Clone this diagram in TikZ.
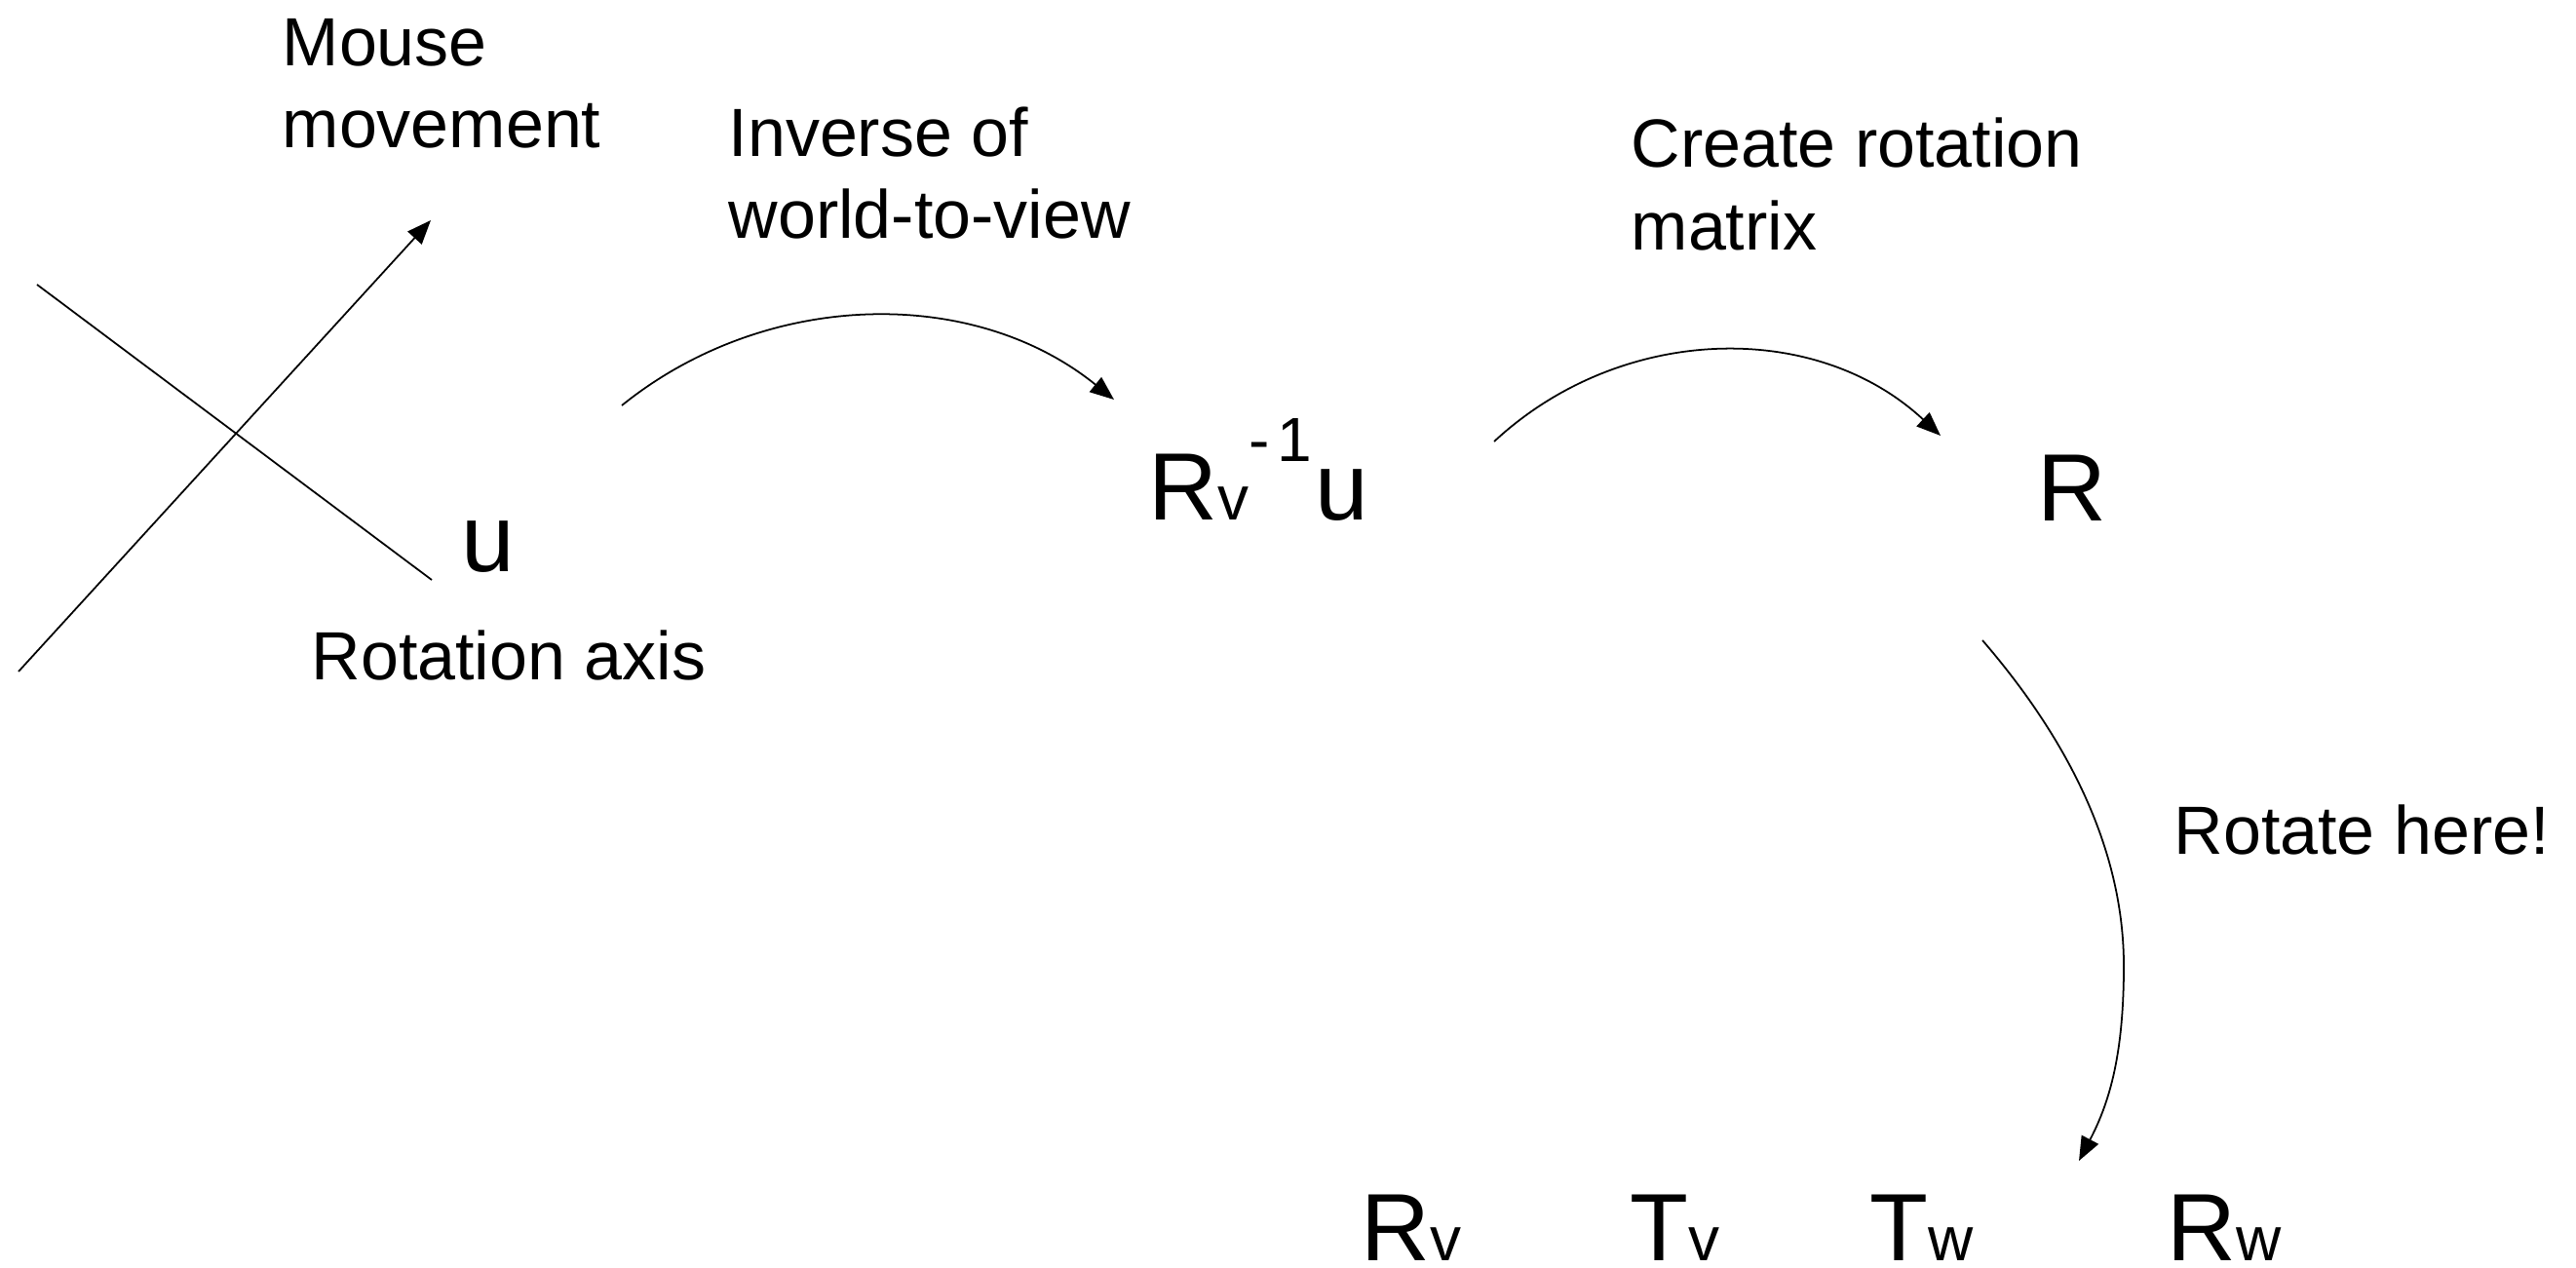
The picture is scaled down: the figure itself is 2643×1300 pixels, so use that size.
\documentclass[tikz,border=0pt]{standalone}
\usepackage{fontspec}
\setmainfont{Liberation Sans}
\usetikzlibrary{arrows.meta}
\newcommand\bigtxt{\fontsize{27.9}{33}\selectfont}
\newcommand\smtxt{\fontsize{18.2}{22}\selectfont}
\newcommand\bodytxt{\fontsize{19.9}{23.9}\selectfont}
\begin{document}
\begin{tikzpicture}[x=0.01cm,y=-0.01cm,
  lbl/.style={inner sep=0pt, anchor=base west, font=\bodytxt, align=left},
  sym/.style={inner sep=0pt, anchor=base west, font=\bigtxt},
  conn/.style={line width=0.5pt, -{Triangle[length=7pt,width=5.5pt]}},
  plain/.style={line width=0.5pt}]
\useasboundingbox (0,0) rectangle (2643,1300);

% labels (base anchor = baseline of the last line)
\node[lbl] (mouse)   at (289,152)  {Mouse\\movement};
\node[lbl] (inv)     at (747,245)  {Inverse of\\world-to-view};
\node[lbl] (create)  at (1673,256) {Create rotation\\matrix};
\node[lbl] (axislbl) at (319,697)  {Rotation axis};
\node[lbl] (rothere) at (2230,876) {Rotate here!};

% symbols
\node[sym] (u)   at (473,586)  {u};
\node[sym] (rvu) at (1178,533) {R{\smtxt v}\raisebox{16.8pt}{\smtxt -\kern2.3pt 1}\kern0.7pt u};
\node[sym] (R)   at (2090,534) {R};
\node[sym] (Rv)  at (1396,1293) {R{\smtxt v}};
\node[sym] (Tv)  at (1672,1293) {T{\smtxt v}};
\node[sym] (Tw)  at (1918,1293) {T{\smtxt w}};
\node[sym] (Rw)  at (2223,1293) {R{\smtxt w}};

% axis and mouse movement
\coordinate (ax1) at (38,292);
\coordinate (ax2) at (443,595);
\coordinate (mv1) at (19,689);
\coordinate (mv2) at (442,226);
\draw[plain] (ax1) -- (ax2);
\draw[conn] (mv1) -- (mv2);

% curved connectors
\coordinate (a1s) at (638,416);
\coordinate (a1e) at (1143,410);
\draw[conn] (a1s) .. controls (784,298) and (997,292) .. (a1e);

\coordinate (a2s) at (1533,453);
\coordinate (a2e) at (1991,447);
\draw[conn] (a2s) .. controls (1662,333) and (1862,327) .. (a2e);

\coordinate (a3s) at (2034,657);
\coordinate (a3m) at (2179,991);
\coordinate (a3e) at (2133,1191);
\draw[conn] (a3s) .. controls (2110,745) and (2179,860) .. (a3m)
               .. controls (2179,1080) and (2165,1130) .. (a3e);
\end{tikzpicture}
\end{document}
